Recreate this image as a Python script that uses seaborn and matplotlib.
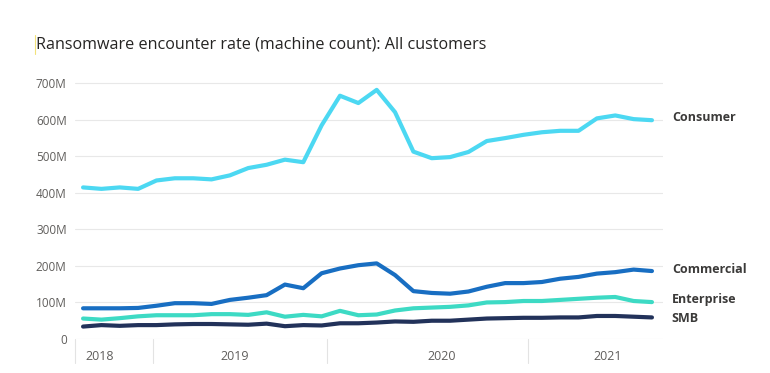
import pandas as pd
import seaborn as sns
import matplotlib.pyplot as plt
import matplotlib.transforms as mtransforms

# Monthly machine counts, in millions
consumer = [415, 411, 415, 411, 434, 440, 440, 437, 448, 468, 477, 491, 484, 585, 666, 646,
            682, 621, 513, 495, 498, 512, 542, 550, 559, 566, 570, 570, 604, 612, 602, 599]
commercial = [84, 84, 84, 85, 91, 98, 98, 96, 107, 113, 120, 149, 139, 180, 193, 202,
              207, 175, 131, 126, 124, 130, 143, 153, 153, 156, 165, 170, 179, 183, 190, 186]
enterprise = [56, 53, 57, 62, 65, 65, 65, 68, 68, 66, 73, 61, 66, 62, 77, 65,
              67, 78, 84, 86, 88, 92, 100, 101, 104, 104, 107, 110, 113, 115, 104, 101]
smb = [34, 38, 36, 38, 38, 40, 41, 41, 40, 39, 42, 35, 38, 37, 43, 43,
       45, 48, 47, 50, 50, 53, 56, 57, 58, 58, 59, 59, 63, 63, 61, 59]

segments = ["Consumer", "Commercial", "Enterprise", "SMB"]
colors = {"Consumer": "#4CD8F2", "Commercial": "#186EC2",
          "Enterprise": "#3DDAC4", "SMB": "#22325A"}

years = ["2018", "2019", "2020", "2021"]
year_centers = [0.93, 8.28, 19.56, 28.6]
year_bounds = [-0.44, 3.81, 13.3, 24.25]

df = pd.DataFrame({
    "month": list(range(len(consumer))) * 4,
    "count": consumer + commercial + enterprise + smb,
    "segment": sum([[s] * len(consumer) for s in segments], []),
})

sns.set_style("white")
plt.rcParams["font.family"] = ["Open Sans", "DejaVu Sans"]

fig = plt.figure(figsize=(7.7, 3.73), dpi=100)
ax = fig.add_axes([0.0974, 0.0912, 0.7636, 0.705])

sns.lineplot(data=df, x="month", y="count", hue="segment", palette=colors,
             linewidth=3, legend=False, ax=ax, zorder=3)

ax.set_xlim(-0.44, 31.6)
ax.set_ylim(0, 720)
ax.set_yticks(range(0, 701, 100))
ax.set_yticklabels(["0"] + [f"{v}M" for v in range(100, 701, 100)],
                   color="#605E5C", fontsize=8.5)
ax.set_xticks([])
ax.set_xlabel("")
ax.set_ylabel("")
ax.tick_params(axis="y", length=0, pad=6)
ax.grid(axis="y", color="#E8E8E8", linewidth=0.8)
ax.set_axisbelow(True)
for sp in ax.spines.values():
    sp.set_visible(False)

# year axis below the plot
trans = mtransforms.blended_transform_factory(ax.transData, ax.transAxes)
for xb in year_bounds:
    ax.plot([xb, xb], [0, -0.09], transform=trans, color="#E3E3E3",
            linewidth=0.8, clip_on=False)
for xc, yr in zip(year_centers, years):
    ax.text(xc, -0.065, yr, transform=trans, ha="center", va="center",
            fontsize=9, color="#605E5C")

# series labels at the right end
label_y = {"Consumer": 607, "Commercial": 191, "Enterprise": 107, "SMB": 57}
trans_r = mtransforms.blended_transform_factory(ax.transAxes, ax.transData)
for s in segments:
    ax.text(1.015, label_y[s], s, transform=trans_r, ha="left", va="center",
            fontsize=9, fontweight="bold", color="#3B3A39")

fig.text(0.047, 0.882, "Ransomware encounter rate (machine count): All customers",
         fontsize=11.6, color="#252423", ha="left", va="center")
fig.add_artist(plt.Line2D([0.0455, 0.0455], [0.855, 0.905], color="#F2E27A",
                          linewidth=0.8))

fig.savefig("out.png", dpi=100, facecolor="white")
